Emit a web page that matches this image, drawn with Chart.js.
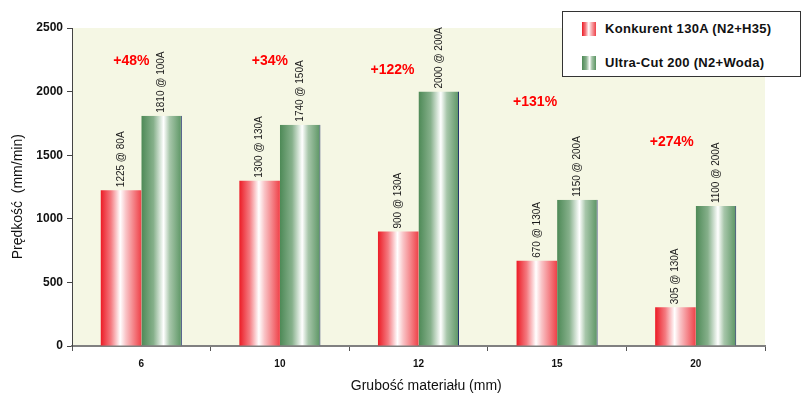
<!DOCTYPE html>
<html>
<head>
<meta charset="utf-8">
<script src="https://cdn.jsdelivr.net/npm/chart.js@4/dist/chart.umd.min.js"></script>
<style>
  html, body { margin: 0; padding: 0; background: #ffffff; }
  #wrap { position: relative; width: 804px; height: 395px; }
  #chart { position: absolute; left: 0; top: 0; }
  #legend {
    position: absolute; left: 562px; top: 11px; width: 239px; height: 66px;
    background: #ffffff; border: 1px solid #333333; box-sizing: border-box;
    font-family: "Liberation Sans", Arial, sans-serif; font-weight: bold; font-size: 13px;
    letter-spacing: 0.3px; color: #111;
  }
  .item { position: absolute; left: 19px; height: 14px; line-height: 14px; white-space: nowrap; }
  .sw { display: inline-block; width: 14px; height: 14px; vertical-align: top; margin-right: 9px; }
  .sw.red { background: linear-gradient(to right, #ec1c26 0%, #f47a80 25%, #ffffff 48%, #f9c3c6 62%, #ef4148 100%); }
  .sw.green { background: linear-gradient(to right, #4d8956 0%, #86b08b 30%, #ffffff 55%, #a7c6aa 70%, #5a9462 100%); }
</style>
</head>
<body>
<div id="wrap">
  <canvas id="chart" width="804" height="395"></canvas>
  <div id="legend">
    <div class="item" style="top:10px"><span class="sw red"></span>Konkurent 130A (N2+H35)</div>
    <div class="item" style="top:44px"><span class="sw green"></span>Ultra-Cut 200 (N2+Woda)</div>
  </div>
</div>
<script>
// Material thickness (mm)
const categories = ['6', '10', '12', '15', '20'];
// Cutting speed (mm/min) and current for each machine
const konkurentSpeed = [1225, 1300, 900, 670, 305];
const konkurentCurrent = ['80A', '130A', '130A', '130A', '130A'];
const ultraCutSpeed = [1810, 1740, 2000, 1150, 1100];
const ultraCutCurrent = ['100A', '150A', '200A', '200A', '200A'];
// Speed gain of Ultra-Cut over the competitor
const gainLabels = ['+48%', '+34%', '+122%', '+131%', '+274%'];
const yTickValues = [0, 500, 1000, 1500, 2000, 2500];

const seriesNames = ['Konkurent 130A (N2+H35)', 'Ultra-Cut 200 (N2+Woda)'];
const currents = [konkurentCurrent, ultraCutCurrent];

// where the gain badges sit (speed level and horizontal shift in px)
const gainAnchorLevel = [2243, 2243, 2170, 1918, 1606];
const gainShiftX = [-10, -10, -26, -22, -24];

const CAT_PCT = 0.585;

const redStops = [[0, '#ec1c26'], [0.25, '#f47a80'], [0.48, '#ffffff'], [0.62, '#f9c3c6'], [1, '#ef4148']];
const greenStops = [[0, '#4d8956'], [0.3, '#86b08b'], [0.55, '#ffffff'], [0.7, '#a7c6aa'], [1, '#5a9462']];

function barGradient(ctx, datasetIndex, stops, fallback) {
  const chart = ctx.chart;
  const xs = chart.scales.x;
  if (!chart.chartArea || !xs || ctx.dataIndex === undefined) return fallback;
  const center = xs.getPixelForValue(ctx.dataIndex);
  const catW = (xs.right - xs.left) / categories.length;
  const half = catW * CAT_PCT / 2;
  const x0 = datasetIndex === 0 ? center - half : center;
  const x1 = datasetIndex === 0 ? center : center + half;
  const g = chart.ctx.createLinearGradient(x0, 0, x1, 0);
  stops.forEach(s => g.addColorStop(s[0], s[1]));
  return g;
}

const plotBackground = {
  id: 'plotBackground',
  beforeDraw(chart) {
    const { ctx, chartArea: a } = chart;
    ctx.save();
    ctx.fillStyle = '#f5f7e4';
    ctx.fillRect(a.left, a.top, a.right - a.left, a.bottom - a.top);
    ctx.restore();
  }
};

const barLabels = {
  id: 'barLabels',
  afterDatasetsDraw(chart) {
    const { ctx } = chart;
    const ys = chart.scales.y, xs = chart.scales.x;
    ctx.save();
    // value @ current, written vertically above each bar
    ctx.font = '10px "Liberation Sans", Arial, sans-serif';
    ctx.fillStyle = '#1a1a1a';
    ctx.textAlign = 'left';
    ctx.textBaseline = 'middle';
    chart.data.datasets.forEach((ds, di) => {
      const meta = chart.getDatasetMeta(di);
      meta.data.forEach((bar, i) => {
        ctx.save();
        ctx.translate(bar.x, bar.y - 3);
        ctx.rotate(-Math.PI / 2);
        ctx.fillText(ds.data[i] + ' @ ' + currents[di][i], 0, 0);
        ctx.restore();
      });
    });
    // gain badges
    ctx.font = 'bold 14px "Liberation Sans", Arial, sans-serif';
    ctx.fillStyle = '#ff0000';
    ctx.textAlign = 'center';
    gainLabels.forEach((t, i) => {
      ctx.fillText(t, xs.getPixelForValue(i) + gainShiftX[i], ys.getPixelForValue(gainAnchorLevel[i]));
    });
    ctx.restore();
  }
};

new Chart(document.getElementById('chart'), {
  type: 'bar',
  data: {
    labels: categories,
    datasets: [
      {
        label: seriesNames[0],
        data: konkurentSpeed,
        backgroundColor: c => barGradient(c, 0, redStops, '#ec1c26'),
        borderWidth: 0,
        barPercentage: 1,
        categoryPercentage: CAT_PCT
      },
      {
        label: seriesNames[1],
        data: ultraCutSpeed,
        backgroundColor: c => barGradient(c, 1, greenStops, '#4d8956'),
        borderColor: '#1c2a6b',
        borderWidth: { top: 0, right: 1, bottom: 0, left: 0 },
        borderSkipped: false,
        barPercentage: 1,
        categoryPercentage: CAT_PCT
      }
    ]
  },
  options: {
    responsive: false,
    animation: false,
    layout: { padding: { left: 0, right: 39, top: 28, bottom: 0 } },
    plugins: {
      legend: { display: false },
      tooltip: { enabled: false }
    },
    scales: {
      x: {
        grid: { display: true, drawOnChartArea: false, drawTicks: true, tickLength: 5, color: '#555555', offset: true },
        border: { display: true, color: '#808080', width: 2 },
        ticks: {
          color: '#111111',
          font: { family: '"Liberation Sans", Arial, sans-serif', size: 10, weight: 'bold' },
          padding: 7
        },
        title: {
          display: true,
          text: '    Grubość materiału (mm)',
          color: '#111111',
          font: { family: '"Liberation Sans", Arial, sans-serif', size: 14 },
          padding: { top: 0, bottom: 0 }
        },
        afterFit(scale) { scale.height = 49; }
      },
      y: {
        min: 0,
        max: 2500,
        afterBuildTicks(scale) { scale.ticks = yTickValues.map(v => ({ value: v })); },
        grid: { display: true, drawOnChartArea: false, drawTicks: true, tickLength: 5, color: '#444444' },
        border: { display: true, color: '#444444', width: 1 },
        ticks: {
          color: '#111111',
          font: { family: '"Liberation Sans", Arial, sans-serif', size: 12, weight: 'bold' },
          padding: 4,
          callback: v => String(v)
        },
        title: {
          display: true,
          text: 'Prędkość  (mm/min)     ',
          color: '#111111',
          font: { family: '"Liberation Sans", Arial, sans-serif', size: 14 },
          padding: { top: 10, bottom: 0 }
        },
        afterFit(scale) { scale.width = 72; }
      }
    }
  },
  plugins: [plotBackground, barLabels]
});
</script>
</body>
</html>
